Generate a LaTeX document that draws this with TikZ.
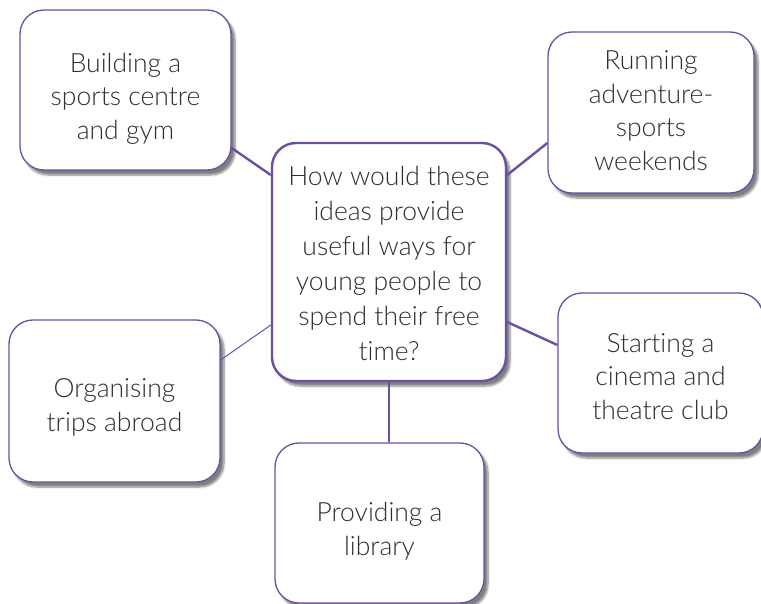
\documentclass[tikz,border=0pt]{standalone}
\usepackage{fontspec}
\setmainfont{Lato}[UprightFont=* Light, Ligatures={NoCommon,NoRare}]
\usetikzlibrary{shadows.blur}
\definecolor{bordc}{HTML}{6B4FA0}
\definecolor{txtc}{HTML}{2E2E2E}
\newcommand\ideatext[2][4pt]{\raisebox{-#1}[\height][\depth]{\begin{tabular}{@{}c@{}}#2\end{tabular}}}
\tikzset{
  idea/.style={draw=bordc, line width=1.3pt, fill=white, rounded corners=24pt,
    align=center, text=txtc, font=\fontsize{26.5}{33.5}\selectfont,
    blur shadow={shadow xshift=4pt, shadow yshift=-5pt, shadow blur steps=8, shadow opacity=50},
    inner sep=0pt},
  hub/.style={idea, line width=2.4pt, font=\fontsize{26.5}{35}\selectfont},
  link/.style={draw=bordc, line width=2.4pt},
  thinlink/.style={draw=bordc, line width=1pt}
}
\begin{document}
\begin{tikzpicture}[x=1pt, y=-1pt]
\useasboundingbox (0,0) rectangle (761,604);
\begin{scope}
\clip (0,0) rectangle (761,604);
\node[idea, minimum width=211pt, minimum height=160pt] (tl) at (125.5,90) {\ideatext[9pt]{Building a\\sports centre\\and gym}};
\node[idea, minimum width=206pt, minimum height=161pt] (tr) at (651,112.5) {\ideatext[1pt]{Running\\adventure-\\sports\\weekends}};
\node[idea, minimum width=211pt, minimum height=162pt] (l) at (114.5,401) {\ideatext[7pt]{Organising\\trips abroad}};
\node[idea, minimum width=205pt, minimum height=160pt] (r) at (660.5,373) {\ideatext[6pt]{Starting a\\cinema and\\theatre club}};
\node[idea, minimum width=209pt, minimum height=160pt] (b) at (379.5,523) {\ideatext[9pt]{Providing a\\library}};
\node[hub, minimum width=234pt, minimum height=238pt] (c) at (389,262) {\ideatext[4pt]{How would these\\ideas provide\\useful ways for\\young people to\\spend their free\\time?}};
\draw[link] ([yshift=-58pt]tl.east) -- ([yshift=87pt]c.west);
\draw[link] ([yshift=-30.5pt]tr.west) -- ([yshift=87pt]c.east);
\draw[thinlink] ([yshift=41pt]l.east) -- ([yshift=-63pt]c.west);
\draw[link] ([yshift=28pt]r.west) -- ([yshift=-60pt]c.east);
\draw[link] (c.south) -- (c.south |- b.north);
\end{scope}
\end{tikzpicture}
\end{document}
